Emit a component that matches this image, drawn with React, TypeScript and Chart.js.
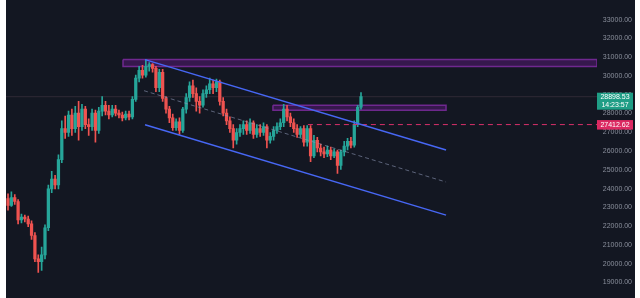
import React, { useEffect, useRef } from 'react';
import { Chart, registerables } from 'chart.js';

Chart.register(...registerables);

// ---- Candle data ----
const candleOpen = [
  23469, 23106, 23521, 23314, 22329, 22485, 22381, 22122, 21501, 20257,
  20102, 20465, 21915, 23987, 24505, 24194, 25541, 27199, 26991, 27924,
  27199, 28027, 27302, 28235, 27406, 27302, 28027, 27095, 28131, 28442,
  28131, 27924, 28235, 28027, 27924, 27768, 27976, 27820, 28753, 29892,
  30307, 30048, 30514, 30617, 30410, 29374, 30203, 28804, 28235, 27768,
  27250, 27561, 27095, 28235, 28856, 29478, 29063, 28649, 28442, 29063,
  29271, 29581, 29374, 29685, 28649, 28027, 27613, 27199, 26577, 26991,
  27199, 27406, 27095, 27509, 26888, 27199, 26991, 27302, 26577, 26784,
  27095, 27302, 27509, 28235, 27820, 27509, 27199, 26888, 27199, 26473,
  27199, 25748, 26577, 26163, 25955, 25852, 26059, 25748, 25955, 25230,
  25955, 26266, 26525, 26318, 27406, 28338,
];
const candleClose = [
  23106, 23521, 23314, 22329, 22485, 22381, 22122, 21501, 20257, 20102,
  20465, 21915, 23987, 24505, 24194, 25541, 27199, 26991, 27924, 27199,
  28027, 27302, 28235, 27406, 27302, 28027, 27095, 28131, 28442, 28131,
  27924, 28235, 28027, 27924, 27768, 27976, 27820, 28753, 29892, 30307,
  30048, 30514, 30617, 30410, 29374, 30203, 28804, 28235, 27768, 27250,
  27561, 27095, 28235, 28856, 29478, 29063, 28649, 28442, 29063, 29271,
  29581, 29374, 29685, 28649, 28027, 27613, 27199, 26577, 26991, 27199,
  27406, 27095, 27509, 26888, 27199, 26991, 27302, 26577, 26784, 27095,
  27302, 27509, 28235, 27820, 27509, 27199, 26888, 27199, 26473, 27199,
  25748, 26577, 26163, 25955, 25852, 26059, 25748, 25955, 25230, 25955,
  26266, 26525, 26318, 27406, 28338, 28898.53,
];
const candleHigh = [
  23728, 23832, 23676, 23417, 22640, 22588, 22537, 22278, 21656, 20465,
  20879, 22070, 24194, 24919, 24712, 25800, 27613, 27872, 28131, 28235,
  28390, 28649, 28494, 28390, 27717, 28235, 28183, 28338, 28908, 28649,
  28442, 28442, 28442, 28183, 28079, 28131, 28131, 28908, 30048, 30514,
  30566, 30876, 30721, 30669, 30514, 30359, 30359, 28908, 28390, 27976,
  27717, 27768, 28338, 29063, 29685, 29789, 29374, 28908, 29271, 29478,
  29892, 29789, 29840, 29789, 28856, 28235, 27820, 27406, 27199, 27406,
  27613, 27613, 27717, 27613, 27406, 27406, 27509, 27406, 26991, 27302,
  27509, 27717, 28494, 28442, 28027, 27717, 27406, 27302, 27354, 27354,
  27354, 26836, 26732, 26370, 26214, 26266, 26214, 26111, 26059, 26059,
  26525, 26681, 26732, 27613, 28442, 29115,
];
const candleLow = [
  22847, 23054, 23158, 22122, 22174, 22226, 21967, 21293, 20102, 19532,
  19636, 20257, 21760, 23780, 23987, 23987, 25386, 26681, 26784, 26836,
  26991, 26577, 27095, 27199, 26836, 27095, 26473, 26940, 27872, 27924,
  27717, 27820, 27872, 27768, 27613, 27665, 27665, 27717, 28649, 29685,
  29892, 29944, 30255, 30203, 29167, 29167, 28649, 28027, 27509, 27095,
  27095, 26888, 26991, 28027, 28649, 28856, 28131, 28027, 28338, 28856,
  29063, 29063, 29167, 28442, 27872, 27406, 26991, 26163, 26370, 26784,
  26888, 26888, 26940, 26681, 26732, 26784, 26836, 26163, 26422, 26577,
  26940, 27147, 27302, 27613, 27302, 26991, 26732, 26732, 26266, 26266,
  25437, 25645, 25955, 25748, 25645, 25696, 25541, 25645, 24816, 25023,
  25748, 26059, 26163, 26214, 27302, 28235,
];

// ---- Axis tick values ----
const priceTicks = [
  19000, 20000, 21000, 22000, 23000, 24000, 25000, 26000,
  27000, 28000, 29000, 30000, 31000, 32000, 33000,
];

// ---- Drawings (in candle-index / price units) ----
const X_MIN = -0.6;
const X_MAX = 175.2;
const Y_MIN = 18393;
const Y_MAX = 33829;

const channelX = [40.75, 130.3];
const upperChannelY = [30876, 26059];
const lowerChannelY = [27406, 22588];
const midChannelX = [40.45, 130.3];
const midChannelY = [29219, 24350];

const zoneTopX = [34.2, X_MAX];
const zoneTopY = [30876, 30514];
const zoneMidX = [78.8, 130.3];
const zoneMidY = [28442, 28183];

const levelX = [89.2, X_MAX];
const LEVEL_PRICE = 27412.62;
const LAST_PRICE = 28898.53;
const LAST_TIME = '14:23:57';

export default function App() {
  const ref = useRef<HTMLCanvasElement>(null);

  useEffect(() => {
    const UP = '#26a69a';
    const DOWN = '#ef5350';
    const colors = candleOpen.map((o, i) => (candleClose[i] >= o ? UP : DOWN));
    const bodies = candleOpen.map((o, i) => ({ x: i, y: [o, candleClose[i]] }));
    const wicks = candleOpen.map((_, i) => ({ x: i, y: [candleLow[i], candleHigh[i]] }));
    const rect = (xs: number[], ys: number[]) => [
      { x: xs[0], y: ys[0] },
      { x: xs[1], y: ys[0] },
      { x: xs[1], y: ys[1] },
      { x: xs[0], y: ys[1] },
      { x: xs[0], y: ys[0] },
    ];
    const seg = (xs: number[], ys: number[]) => [
      { x: xs[0], y: ys[0] },
      { x: xs[1], y: ys[1] },
    ];

    const bgPlugin = {
      id: 'bg',
      beforeDraw(c: any) {
        const ctx = c.ctx;
        ctx.save();
        ctx.fillStyle = '#131722';
        ctx.fillRect(0, 0, c.width, c.height);
        ctx.restore();
      },
    };

    const labelPlugin = {
      id: 'priceLabels',
      afterDraw(c: any) {
        const ctx = c.ctx;
        const ys = c.scales.y;
        const left = c.chartArea.right;
        const w = 36;
        ctx.save();
        ctx.font = '7px "Liberation Sans", Arial, sans-serif';
        ctx.textAlign = 'center';
        ctx.textBaseline = 'middle';
        const yl = ys.getPixelForValue(LAST_PRICE);
        ctx.fillStyle = '#1f9e86';
        ctx.fillRect(left, yl - 4, w, 17);
        ctx.fillStyle = '#ffffff';
        ctx.fillText(LAST_PRICE.toFixed(2), left + w / 2, yl + 0.5);
        ctx.fillText(LAST_TIME, left + w / 2, yl + 8.5);
        const yv = ys.getPixelForValue(LEVEL_PRICE);
        ctx.fillStyle = '#dc2a62';
        ctx.fillRect(left, yv - 4.5, w, 9.5);
        ctx.fillStyle = '#ffffff';
        ctx.fillText(LEVEL_PRICE.toFixed(2), left + w / 2, yv + 0.5);
        ctx.restore();
      },
    };

    const line = (label: string, data: any[], color: string, width: number, dash: number[] = [], order = 0) =>
      ({
        type: 'line',
        label,
        data,
        borderColor: color,
        borderWidth: width,
        borderDash: dash,
        pointRadius: 0,
        fill: false,
        order,
      } as any);

    const zone = (label: string, data: any[]) =>
      ({
        type: 'line',
        label,
        data,
        borderColor: 'rgba(130,45,165,0.8)',
        backgroundColor: 'rgba(90,25,120,0.5)',
        borderWidth: 1.5,
        pointRadius: 0,
        fill: 'shape',
        order: 4,
      } as any);

    const chart = new Chart(ref.current as HTMLCanvasElement, {
      type: 'bar',
      data: {
        datasets: [
          line('upper', seg(channelX, upperChannelY), '#4767f4', 1.5),
          line('lower', seg(channelX, lowerChannelY), '#4767f4', 1.5),
          line('mid', seg(midChannelX, midChannelY), 'rgba(140,150,180,0.6)', 1, [4, 3]),
          line('level', seg(levelX, [LEVEL_PRICE, LEVEL_PRICE]), '#d8306a', 1, [5, 4]),
          {
            type: 'bar',
            label: 'body',
            data: bodies,
            backgroundColor: colors,
            barThickness: 2.6,
            minBarLength: 1,
            grouped: false,
            borderWidth: 0,
            order: 1,
          } as any,
          {
            type: 'bar',
            label: 'wick',
            data: wicks,
            backgroundColor: colors,
            barThickness: 1,
            grouped: false,
            borderWidth: 0,
            order: 2,
          } as any,
          line('last', seg([X_MIN, X_MAX], [LAST_PRICE, LAST_PRICE]), 'rgba(150,110,120,0.22)', 1, [], 3),
          zone('zoneTop', rect(zoneTopX, zoneTopY)),
          zone('zoneMid', rect(zoneMidX, zoneMidY)),
        ],
      },
      options: {
        responsive: false,
        animation: false,
        devicePixelRatio: 1,
        layout: { padding: { left: 0, right: 3, top: 0, bottom: 0 } },
        plugins: {
          legend: { display: false },
          tooltip: { enabled: false },
        },
        scales: {
          x: {
            type: 'linear',
            min: X_MIN,
            max: X_MAX,
            display: false,
            offset: false,
            grid: { display: false },
          },
          y: {
            type: 'linear',
            position: 'right',
            min: Y_MIN,
            max: Y_MAX,
            grid: { display: false },
            border: { display: false },
            afterBuildTicks: (s: any) => {
              s.ticks = priceTicks.map((v) => ({ value: v }));
            },
            ticks: {
              autoSkip: false,
              crossAlign: 'far',
              padding: 0,
              color: '#8a8f9c',
              font: { size: 7, family: '"Liberation Sans", Arial, sans-serif' },
              callback: (v: any) => Number(v).toFixed(2),
            },
            afterFit: (s: any) => {
              s.width = 35;
            },
          },
        },
      } as any,
      plugins: [bgPlugin, labelPlugin],
    });
    return () => chart.destroy();
  }, []);

  return (
    <div style={{ position: 'fixed', left: 6, top: 0, width: 629, height: 298 }}>
      <canvas ref={ref} width={629} height={298} style={{ display: 'block' }} />
    </div>
  );
}
